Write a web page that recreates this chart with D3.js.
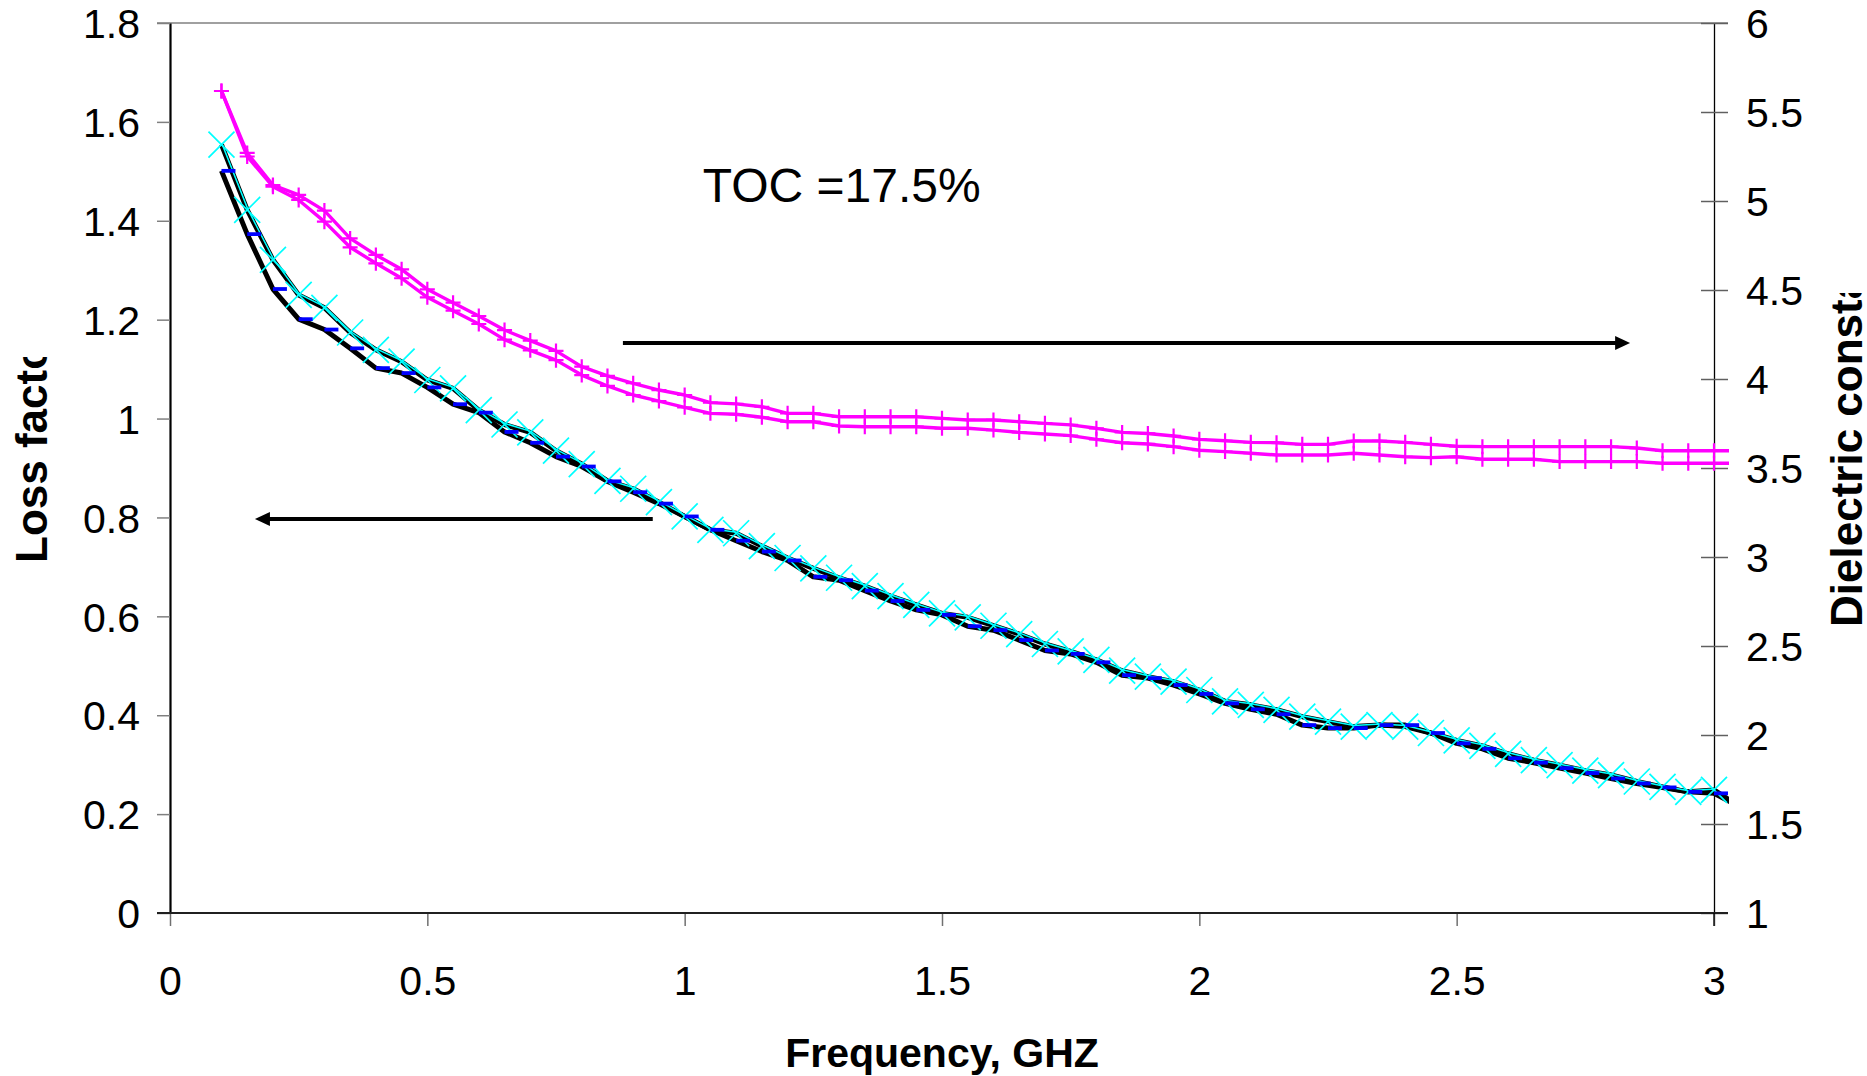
<!DOCTYPE html>
<html>
<head>
<meta charset="utf-8">
<script src="https://cdn.jsdelivr.net/npm/d3@7"></script>
<style>
html,body{margin:0;padding:0;background:#fff;}
svg{display:block;}
text{font-family:"Liberation Sans",Arial,Helvetica,sans-serif;}
</style>
</head>
<body>
<svg id="chart" width="1867" height="1076"></svg>
<script>
// ---------- data ----------
const freq = [0.1,0.15,0.2,0.25,0.3,0.35,0.4,0.45,0.5,0.55,
              0.6,0.65,0.7,0.75,0.8,0.85,0.9,0.95,1.0,1.05,
              1.1,1.15,1.2,1.25,1.3,1.35,1.4,1.45,1.5,1.55,
              1.6,1.65,1.7,1.75,1.8,1.85,1.9,1.95,2.0,2.05,
              2.1,2.15,2.2,2.25,2.3,2.35,2.4,2.45,2.5,2.55,
              2.6,2.65,2.7,2.75,2.8,2.85,2.9,2.95,3.0,3.05];

// loss factor, sample with cyan "x" markers (left axis)
const lossX = [1.554,1.422,1.321,1.250,1.224,1.174,1.139,1.115,1.078,1.061,
               1.017,0.988,0.972,0.935,0.908,0.874,0.858,0.831,0.802,0.775,
               0.768,0.742,0.718,0.697,0.678,0.661,0.641,0.623,0.606,0.598,
               0.581,0.564,0.544,0.529,0.512,0.490,0.478,0.468,0.451,0.428,
               0.421,0.411,0.397,0.387,0.377,0.380,0.377,0.364,0.349,0.338,
               0.322,0.309,0.299,0.288,0.279,0.266,0.255,0.245,0.249,0.215];

// loss factor, sample with blue dash markers (left axis)
const lossDash = [1.501,1.373,1.262,1.201,1.180,1.142,1.102,1.092,1.063,1.029,
                  1.012,0.973,0.951,0.923,0.903,0.873,0.851,0.828,0.802,0.775,
                  0.753,0.731,0.713,0.680,0.673,0.652,0.631,0.613,0.603,0.580,
                  0.572,0.552,0.531,0.524,0.507,0.481,0.475,0.461,0.443,0.424,
                  0.412,0.402,0.380,0.374,0.374,0.380,0.380,0.364,0.343,0.332,
                  0.313,0.304,0.293,0.283,0.272,0.262,0.254,0.245,0.242,0.215];

// dielectric constant, upper magenta curve (right axis)
const dielUpper = [5.618,5.270,5.090,5.034,4.946,4.790,4.697,4.616,4.504,4.429,
                   4.354,4.275,4.216,4.158,4.069,4.017,3.976,3.938,3.910,3.867,
                   3.860,3.844,3.807,3.807,3.788,3.788,3.788,3.788,3.779,3.770,
                   3.770,3.760,3.751,3.742,3.723,3.700,3.694,3.680,3.661,3.653,
                   3.644,3.642,3.633,3.633,3.652,3.652,3.644,3.633,3.622,3.620,
                   3.620,3.620,3.620,3.620,3.620,3.612,3.597,3.597,3.597,3.597];

// dielectric constant, lower magenta curve (right axis)
const dielLower = [5.618,5.250,5.080,5.006,4.884,4.740,4.650,4.566,4.459,4.384,
                   4.309,4.221,4.161,4.106,4.022,3.961,3.910,3.876,3.841,3.807,
                   3.802,3.785,3.760,3.760,3.736,3.732,3.732,3.732,3.723,3.723,
                   3.713,3.700,3.691,3.682,3.661,3.642,3.635,3.620,3.600,3.592,
                   3.583,3.573,3.573,3.573,3.583,3.573,3.563,3.558,3.563,3.549,
                   3.549,3.549,3.536,3.536,3.536,3.536,3.527,3.527,3.527,3.527];

const xTicks = [0,0.5,1,1.5,2,2.5,3];
const xTickLabels = ["0","0.5","1","1.5","2","2.5","3"];
const leftTicks = [0,0.2,0.4,0.6,0.8,1,1.2,1.4,1.6,1.8];
const leftTickLabels = ["0","0.2","0.4","0.6","0.8","1","1.2","1.4","1.6","1.8"];
const rightTicks = [1,1.5,2,2.5,3,3.5,4,4.5,5,5.5,6];
const rightTickLabels = ["1","1.5","2","2.5","3","3.5","4","4.5","5","5.5","6"];

const xTitle = "Frequency, GHZ";
const leftTitle = "Loss factor";
const rightTitle = "Dielectric constant";
const note = {text:"TOC =17.5%", f:1.035, v:1.438};
// arrows in data units
const arrows = [
  {from:0.880, to:2.837, val:4.202, axis:"right"},
  {from:0.938, to:0.165, val:0.797, axis:"left"}
];

// ---------- layout ----------
const W = 1867, H = 1076;
const L = 170, R = 1714, T = 23, B = 913;
const svg = d3.select("#chart");

const x = d3.scaleLinear().domain([0,3]).range([L,R]);
const yL = d3.scaleLinear().domain([0,1.8]).range([B,T]);
const yR = d3.scaleLinear().domain([1,6]).range([B,T]);

const tickFont = 41;

svg.append("defs").append("clipPath").attr("id","plotclip")
  .append("rect").attr("x",L).attr("y",0).attr("width",1729-L).attr("height",H);

// top border
svg.append("line").attr("x1",L-13).attr("x2",R+14).attr("y1",T).attr("y2",T)
  .attr("stroke","#808080").attr("stroke-width",1.5);

// left axis
const gL = svg.append("g").attr("transform",`translate(${L},0)`)
  .call(d3.axisLeft(yL).tickValues(leftTicks).tickFormat((d,i)=>leftTickLabels[i])
        .tickSizeInner(13).tickSizeOuter(0).tickPadding(17));
gL.select(".domain").attr("stroke","#000").attr("stroke-width",2.2);
gL.selectAll(".tick line").attr("stroke","#808080").attr("stroke-width",1.5);
gL.selectAll(".tick text").attr("font-size",tickFont).attr("fill","#000")
  .attr("font-family","Liberation Sans, Arial, sans-serif").attr("dy","0.36em");

// right axis
const gR = svg.append("g").attr("transform",`translate(${R},0)`)
  .call(d3.axisRight(yR).tickValues(rightTicks).tickFormat((d,i)=>rightTickLabels[i])
        .tickSizeInner(14).tickSizeOuter(0).tickPadding(18));
gR.select(".domain").attr("stroke","#000").attr("stroke-width",1.3);
gR.selectAll(".tick line").attr("x1",-13).attr("x2",14).attr("stroke","#606060").attr("stroke-width",1.5);
gR.selectAll(".tick text").attr("font-size",tickFont).attr("fill","#000")
  .attr("font-family","Liberation Sans, Arial, sans-serif").attr("dy","0.36em");

// bottom axis
const gB = svg.append("g").attr("transform",`translate(0,${B})`)
  .call(d3.axisBottom(x).tickValues(xTicks).tickFormat((d,i)=>xTickLabels[i])
        .tickSizeInner(13).tickSizeOuter(0));
gB.select(".domain").remove();
gB.selectAll(".tick line").attr("stroke","#707070").attr("stroke-width",1.5);
gB.selectAll(".tick text").attr("font-size",tickFont).attr("fill","#000")
  .attr("font-family","Liberation Sans, Arial, sans-serif").attr("y",82).attr("dy",0);
svg.append("line").attr("x1",L-13).attr("x2",R+14).attr("y1",B).attr("y2",B)
  .attr("stroke","#202020").attr("stroke-width",1.8);
svg.append("line").attr("x1",R).attr("x2",R).attr("y1",B).attr("y2",B+13)
  .attr("stroke","#000").attr("stroke-width",1.3);

// ---------- series ----------
const pts = (vals, ys) => freq.map((f,i)=>({f, v:vals[i], x:x(f), y:ys(vals[i])}));
const sX = pts(lossX, yL), sD = pts(lossDash, yL);
const sU = pts(dielUpper, yR), sLo = pts(dielLower, yR);
const line = d3.line().x(d=>d.x).y(d=>d.y);
const inAxis = d => d.f <= 3.0001;

const gS = svg.append("g");
const gLines = gS.append("g").attr("clip-path","url(#plotclip)");

// magenta dielectric curves
[sU, sLo].forEach(s=>{
  gLines.append("path").datum(s).attr("d",line).attr("fill","none")
    .attr("stroke","#FF00FF").attr("stroke-width",3.4).attr("stroke-linejoin","round");
});
[sU, sLo].forEach(s=>{
  gS.append("g").selectAll("path").data(s.filter(inAxis)).join("path")
    .attr("transform",d=>`translate(${d.x},${d.y})`)
    .attr("d","M-7.5,0H7.5M0,-7.5V7.5")
    .attr("stroke","#FF00FF").attr("stroke-width",2.2).attr("fill","none");
});

// black loss-factor lines
[sX, sD].forEach(s=>{
  gLines.append("path").datum(s).attr("d",line).attr("fill","none")
    .attr("stroke","#000").attr("stroke-width",5).attr("stroke-linejoin","round");
});
// thin cyan line + cyan x markers
gLines.append("path").datum(sX.filter(inAxis)).attr("d",line).attr("fill","none")
  .attr("stroke","#00FFFF").attr("stroke-width",1.5).attr("transform","translate(0.5,-1)");
gS.append("g").selectAll("path").data(sX.filter(inAxis)).join("path")
  .attr("transform",d=>`translate(${d.x},${d.y})`)
  .attr("d","M-13,-13L13,13M-13,13L13,-13")
  .attr("stroke","#00FFFF").attr("stroke-width",1.7).attr("fill","none");
// blue dash markers
gS.append("g").selectAll("line").data(sD.filter(inAxis)).join("line")
  .attr("x1",d=>d.x).attr("x2",d=>d.x+14).attr("y1",d=>d.y).attr("y2",d=>d.y)
  .attr("stroke","#0000FF").attr("stroke-width",3.8);

// ---------- annotations ----------
arrows.forEach(a=>{
  const ys = a.axis==="right" ? yR : yL;
  const x1 = x(a.from), x2 = x(a.to), yy = ys(a.val);
  const dir = Math.sign(x2-x1);
  const head = 15, hw = 7;
  svg.append("line").attr("x1",x1).attr("x2",x2-dir*head+dir*1).attr("y1",yy).attr("y2",yy)
    .attr("stroke","#000").attr("stroke-width",4);
  svg.append("path")
    .attr("d",`M${x2},${yy}L${x2-dir*head},${yy-hw}L${x2-dir*head},${yy+hw}Z`)
    .attr("fill","#000");
});

svg.append("text").attr("x",x(note.f)).attr("y",yL(note.v))
  .attr("font-size",48).attr("fill","#000").text(note.text);

// axis titles
svg.append("text").attr("x",x(1.5)).attr("y",1067).attr("text-anchor","middle")
  .attr("font-size",41).attr("font-weight","bold").attr("fill","#000").text(xTitle);

svg.append("clipPath").attr("id","lclip").append("rect")
  .attr("x",0).attr("y",357).attr("width",100).attr("height",300);
svg.append("g").attr("clip-path","url(#lclip)")
  .append("text").attr("transform","translate(47,563) rotate(-90)")
  .attr("font-size",44).attr("font-weight","bold").attr("fill","#000").text(leftTitle);

svg.append("clipPath").attr("id","rclip").append("rect")
  .attr("x",1780).attr("y",293).attr("width",87).attr("height",400);
svg.append("g").attr("clip-path","url(#rclip)")
  .append("text").attr("transform","translate(1862,627) rotate(-90)")
  .attr("font-size",44).attr("font-weight","bold").attr("fill","#000").text(rightTitle);
</script>
</body>
</html>
